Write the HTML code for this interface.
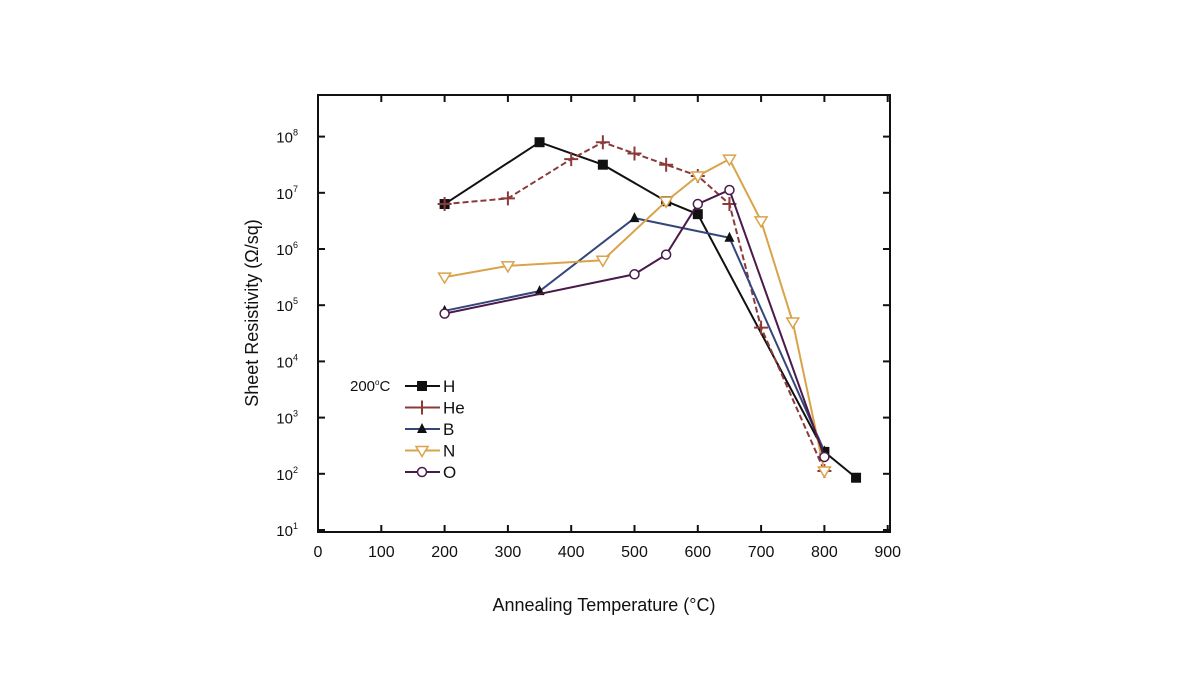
<!DOCTYPE html>
<html><head><meta charset="utf-8"><style>
body{margin:0;background:#fff;}
svg{display:block;font-family:"Liberation Sans",sans-serif;}
</style></head><body>
<svg id="chart" width="1200" height="675"></svg>
<script>
const xTicks=[0,100,200,300,400,500,600,700,800,900];
const yTicks=[1,2,3,4,5,6,7,8];
const hX=[200,350,450,550,600,800,850];
const hY=[6.8,7.9,7.5,6.85,6.62,2.39,1.93];
const heX=[200,300,400,450,500,550,600,650,700,800];
const heY=[6.8,6.9,7.6,7.9,7.7,7.5,7.3,6.8,4.6,2.05];
const bX=[200,350,500,650,800];
const bY=[4.9,5.25,6.55,6.2,2.4];
const nX=[200,300,450,550,600,650,700,750,800];
const nY=[5.5,5.7,5.8,6.85,7.3,7.6,6.5,4.7,2.05];
const oX=[200,500,550,600,650,800];
const oY=[4.85,5.55,5.9,6.8,7.05,2.3];

const NS="http://www.w3.org/2000/svg";
const svg=document.getElementById('chart');
const L=318,R=890,T=95,B=532;
const sx=v=>L+v*0.633;
const sy=v=>530-(v-1)*56.2;
function mk(tag,attrs,parent){const e=document.createElementNS(NS,tag);for(const k in attrs)e.setAttribute(k,attrs[k]);(parent||svg).appendChild(e);return e;}

const frame=mk('rect',{x:L,y:T,width:R-L,height:B-T,fill:'none',stroke:'#111','stroke-width':2});



xTicks.forEach(v=>{
  const x=sx(v);
  const t1=mk('line',{x1:x,y1:B,x2:x,y2:B-7,stroke:'#111','stroke-width':2});
  
  
  const t2=mk('line',{x1:x,y1:T,x2:x,y2:T+7,stroke:'#111','stroke-width':2});
  
  
  const lb=mk('text',{x:x,y:557,'text-anchor':'middle','font-size':16,fill:'#111'});
  lb.textContent=v;
  
  
});
yTicks.forEach(v=>{
  const y=sy(v);
  const t1=mk('line',{x1:L,y1:y,x2:L+7,y2:y,stroke:'#111','stroke-width':2});
  
  
  const t2=mk('line',{x1:R,y1:y,x2:R-7,y2:y,stroke:'#111','stroke-width':2});
  
  
  const lb=mk('text',{x:298,y:y+6,'text-anchor':'end','font-size':15,fill:'#111'});
  lb.textContent='10';
  
  
  const sp=mk('tspan',{dy:-7,'font-size':9});
  sp.textContent=v;
  lb.appendChild(sp);
});

const xt=mk('text',{x:604,y:611,'text-anchor':'middle','font-size':18,fill:'#111'});
xt.textContent='Annealing Temperature (°C)';


const yt=mk('text',{x:0,y:0,'text-anchor':'middle','font-size':18,fill:'#111',transform:'translate(258,313) rotate(-90)'});
yt.textContent='Sheet Resistivity (Ω/sq)';



function marker(g,kind,x,y,color){
  let e;
  if(kind==='sq') e=mk('rect',{x:x-5,y:y-5,width:10,height:10,fill:'#111'},g);
  else if(kind==='plus') e=mk('path',{d:`M${x-7},${y}H${x+7}M${x},${y-7}V${y+7}`,stroke:color,'stroke-width':2,fill:'none'},g);
  else if(kind==='tri') e=mk('path',{d:`M${x},${y-6}L${x+5},${y+4}L${x-5},${y+4}Z`,fill:'#111'},g);
  else if(kind==='tdown') e=mk('path',{d:`M${x-6},${y-4}L${x+6},${y-4}L${x},${y+6}Z`,fill:'#fff',stroke:color,'stroke-width':1.5},g);
  else e=mk('circle',{cx:x,cy:y,r:4.5,fill:'#fff',stroke:color,'stroke-width':1.5},g);
  
  
}
const series=[
  {name:'H',xs:hX,ys:hY,color:'#111',m:'sq',dash:''},
  {name:'He',xs:heX,ys:heY,color:'#8b3a3a',m:'plus',dash:'6,3'},
  {name:'B',xs:bX,ys:bY,color:'#35467a',m:'tri',dash:''},
  {name:'N',xs:nX,ys:nY,color:'#d9a34a',m:'tdown',dash:''},
  {name:'O',xs:oX,ys:oY,color:'#4a1a4a',m:'circ',dash:''}
];
series.forEach(s=>{
  const g=mk('g',{});
  
  
  const d=s.xs.map((v,i)=>(i?'L':'M')+sx(v)+','+sy(s.ys[i])).join('');
  const p=mk('path',{d:d,fill:'none',stroke:s.color,'stroke-width':2,'stroke-dasharray':s.dash},g);
  
  
  s.xs.forEach((v,i)=>marker(g,s.m,sx(v),sy(s.ys[i]),s.color));
});

// legend
const lg=mk('g',{});


const lt=mk('text',{x:350,y:391,'font-size':15,fill:'#111'},lg);
lt.textContent='200';


const ls=mk('tspan',{dy:-6,'font-size':8},lt);ls.textContent='o';
const ls2=mk('tspan',{dy:6,'font-size':15},lt);ls2.textContent='C';
series.forEach((s,i)=>{
  const y=386+i*21.5;
  const e=mk('g',{},lg);
  
  
  mk('line',{x1:405,y1:y,x2:440,y2:y,stroke:s.color,'stroke-width':2},e);
  marker(e,s.m,422,y,s.color);
  const t=mk('text',{x:443,y:y+6,'font-size':17,fill:'#111'},e);
  t.textContent=s.name;
});
</script>
</body></html>
